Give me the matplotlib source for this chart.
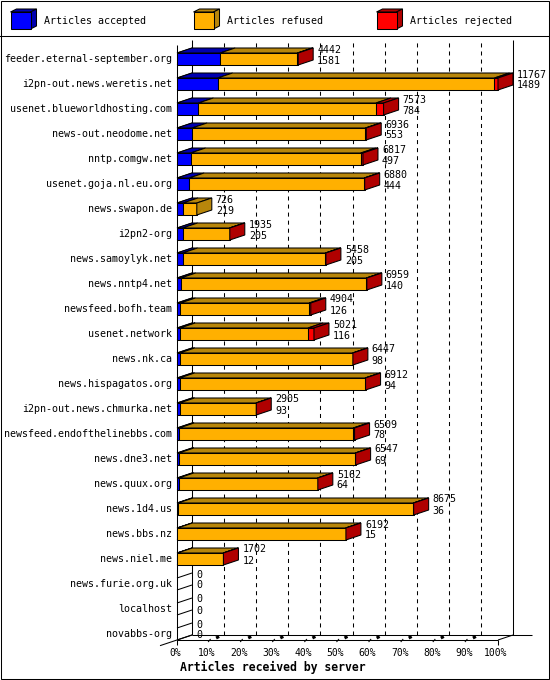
import matplotlib
matplotlib.use("Agg")
import matplotlib.pyplot as plt
from matplotlib.patches import Polygon, Rectangle
import numpy as np

plt.rcParams['font.family'] = ['DejaVu Sans Mono']
plt.rcParams['lines.scale_dashes'] = False

# ---------------- data ----------------
servers = [
    "feeder.eternal-september.org", "i2pn-out.news.weretis.net",
    "usenet.blueworldhosting.com", "news-out.neodome.net", "nntp.comgw.net",
    "usenet.goja.nl.eu.org", "news.swapon.de", "i2pn2-org",
    "news.samoylyk.net", "news.nntp4.net", "newsfeed.bofh.team",
    "usenet.network", "news.nk.ca", "news.hispagatos.org",
    "i2pn-out.news.chmurka.net", "newsfeed.endofthelinebbs.com",
    "news.dne3.net", "news.quux.org", "news.1d4.us", "news.bbs.nz",
    "news.niel.me", "news.furie.org.uk", "localhost", "novabbs-org",
]
total = [4442, 11767, 7573, 6936, 6817, 6880, 726, 1935, 5458, 6959, 4904,
         5021, 6447, 6912, 2905, 6509, 6547, 5162, 8675, 6192, 1702, 0, 0, 0]
accepted = [1581, 1489, 784, 553, 497, 444, 219, 205, 205, 140, 126, 116, 98,
            94, 93, 78, 69, 64, 36, 15, 12, 0, 0, 0]
rejected = [30, 130, 280, 30, 80, 20, 0, 10, 20, 20, 60, 220, 10, 20, 10,
            50, 10, 10, 10, 10, 10, 0, 0, 0]
refused = [t - a - r for t, a, r in zip(total, accepted, rejected)]

series = ["Articles accepted", "Articles refused", "Articles rejected"]
pct_ticks = [0, 10, 20, 30, 40, 50, 60, 70, 80, 90, 100]
x_title = "Articles received by server"

front_colors = ["#0000ff", "#ffb000", "#ff0000"]
side_colors = ["#0000b0", "#b8860b", "#b00000"]

# ---------------- figure ----------------
W, H, DPI = 550, 680, 100
LW = 0.75
fig = plt.figure(figsize=(W / DPI, H / DPI), dpi=DPI)
fig.patch.set_facecolor("white")

# overlay for frame and legend (pixel layout)
ov = fig.add_axes([0, 0, 1, 1])
ov.set_xlim(0, W)
ov.set_ylim(H, 0)
ov.axis("off")
ov.add_patch(Rectangle((0.5, 0.5), W - 1.5, H - 1.5, fill=False, ec="black", lw=LW))
ov.plot([0, W], [35.5, 35.5], color="black", lw=LW)
legend_x = [10.5, 193.5, 376.5]
for lx, name, fc, sc in zip(legend_x, series, front_colors, side_colors):
    x0, x1, y0, y1 = lx, lx + 20, 12, 29
    ddx, ddy = 6, -3
    ov.add_patch(Polygon([(x0, y0), (x1, y0), (x1 + ddx, y0 + ddy), (x0 + ddx, y0 + ddy)],
                         closed=True, fc=sc, ec="black", lw=LW))
    ov.add_patch(Polygon([(x1, y0), (x1 + ddx, y0 + ddy), (x1 + ddx, y1 + ddy), (x1, y1)],
                         closed=True, fc=sc, ec="black", lw=LW))
    ov.add_patch(Rectangle((x0, y0), x1 - x0, y1 - y0, fc=fc, ec="black", lw=LW))
    ov.text(x1 + ddx + 7.5, 21, name, fontsize=7.2, va="center", ha="left")

# main axes = front plane of the 3D plot
FX0, FX1, FY_BOT, FY_TOP = 177, 498, 640, 45
DX_PX, DY_PX, SP, BH_PX = 15, 5, 25.0, 12
n = len(servers)
ypos = np.arange(n)[::-1].astype(float)
ax = fig.add_axes([FX0 / W, 1 - FY_BOT / H, (FX1 - FX0) / W, (FY_BOT - FY_TOP) / H])
xmax = max(total)
ax.set_xlim(0, xmax)
ylo = -(BH_PX / 2) / SP
yhi = ylo + (FY_BOT - FY_TOP) / SP
ax.set_ylim(ylo, yhi)
ax.axis("off")
pxx = xmax / (FX1 - FX0)
pxy = 1.0 / SP
dx = DX_PX * pxx
dy = DY_PX * pxy
bh = BH_PX * pxy


def line(xs, ys, z=1, **kw):
    kw.setdefault("color", "black")
    kw.setdefault("lw", LW)
    ax.plot(xs, ys, zorder=z, clip_on=False, solid_capstyle="butt", **kw)


def poly(pts, fc, z=3):
    ax.add_patch(Polygon(pts, closed=True, fc=fc, ec="black", lw=LW, zorder=z,
                         clip_on=False, joinstyle="miter"))


# back wall grid lines
for p in pct_ticks[1:-1]:
    xb = xmax * p / 100 + dx
    line([xb, xb], [ylo + dy, yhi + dy], z=1, dashes=(2.9, 2.9))
# walls
line([dx, dx], [ylo + dy, yhi + dy])
line([0, 0], [ylo, yhi])
line([xmax + dx, xmax + dx], [ylo + dy, yhi + dy])
# floor
line([0, xmax], [ylo, ylo])
line([dx, xmax + dx + 19 * pxx], [ylo + dy, ylo + dy])
line([xmax, xmax + dx], [ylo, ylo + dy])
line([-17 * pxx, dx], [ylo - 17 / 15 * dy, ylo + dy])
# ticks
for p in pct_ticks:
    xf = xmax * p / 100
    if p in (0, 100):
        line([xf, xf], [ylo, ylo - 5 * pxy])
    else:
        line([xf - 1 * pxx, xf + 1.5 * pxx], [ylo - 2 * pxy, ylo + 1 * pxy])
        line([xf + 7 * pxx, xf + 10 * pxx], [ylo + 2 * pxy, ylo + 3.5 * pxy], lw=2.2)
    ax.text(xf - 2 * pxx, ylo - 13 * pxy, f"{p}%", ha="center", va="center",
            fontsize=7.0, clip_on=False)
ax.text(3 * pxx, ylo - 27 * pxy, x_title, ha="left", va="center",
        fontsize=8.3, fontweight="bold", clip_on=False)

# bars
for i in range(n):
    y = ypos[i]
    b, t = y - bh / 2, y + bh / 2
    # left wall edges
    line([0, dx], [t, t + dy], z=2)
    line([0, dx], [b, b + dy], z=2)
    vals = [accepted[i], refused[i], rejected[i]]
    x0 = 0.0
    last = None
    for k, v in enumerate(vals):
        if v <= 0:
            continue
        x1 = x0 + v
        poly([(x0, t), (x1, t), (x1 + dx, t + dy), (x0 + dx, t + dy)], side_colors[k])
        poly([(x0, b), (x1, b), (x1, t), (x0, t)], front_colors[k])
        last = (k, x1)
        x0 = x1
    if last is not None:
        k, x1 = last
        poly([(x1, b), (x1, t), (x1 + dx, t + dy), (x1 + dx, b + dy)], side_colors[k], z=4)
    # category label
    ax.text(-5 * pxx, y, servers[i], ha="right", va="center", fontsize=7.2, clip_on=False)
    # value labels
    xl = total[i] + dx + 4 * pxx
    ax.text(xl, y + 9.5 * pxy, str(total[i]), ha="left", va="center",
            fontsize=7.2, clip_on=False, zorder=5)
    ax.text(xl, y - 1.5 * pxy, str(accepted[i]), ha="left", va="center",
            fontsize=7.2, clip_on=False, zorder=5)

fig.savefig("out.png", dpi=DPI, facecolor="white")
